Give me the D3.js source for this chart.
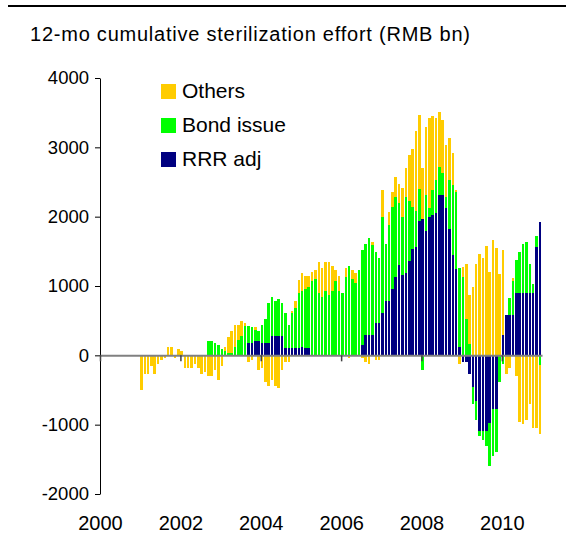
<!DOCTYPE html>
<html><head><meta charset="utf-8">
<script src="https://cdn.jsdelivr.net/npm/d3@7/dist/d3.min.js"></script>
<style>
body{margin:0;background:#fff}
svg{display:block}
text{font-family:"Liberation Sans",Arial,sans-serif;fill:#000}
</style>
</head><body>
<svg id="chart" width="566" height="554"></svg>
<script>
// ---- data (monthly, Jan 2001 .. Dec 2010), RMB bn ----
const seriesKeys = ["RRR adj", "Bond issue", "Others"];
const legendOrder = ["Others", "Bond issue", "RRR adj"];
const xTickYears = [2000, 2002, 2004, 2006, 2008, 2010];
const yTicks = [-2000, -1000, 0, 1000, 2000, 3000, 4000];
const titleText = "12-mo cumulative sterilization effort (RMB bn)";

const rrrAdj = [
  0,0,0,0,0,0,0,0,0,0,0,0,                                  // 2001
  0,0,0,0,0,0,0,0,0,0,0,0,                                  // 2002
  0,0,0,0,0,0,0,0,180,180,205,205,                          // 2003
  182,182,182,274,274,274,274,101,101,101,101,101,          // 2004
  115,101,101,0,0,0,0,0,0,0,0,0,                            // 2005
  0,0,0,0,0,0,144,288,288,288,461,461,                      // 2006
  605,778,778,951,1124,1297,1153,1182,1355,1527,1556,1931,  // 2007
  1960,1787,1989,2017,2046,2306,2306,2118,1816,1441,1239,115, // 2008
  -101,-101,-274,-461,-663,-1095,-1095,-1095,-980,-778,-778,0, // 2009
  288,576,576,576,893,893,893,893,893,893,1556,1917         // 2010
];
const bondIssue = [
  0,0,0,0,0,0,0,0,0,0,0,0,                                  // 2001
  0,0,0,0,0,0,0,0,200,200,173,144,                          // 2002
  87,67,38,29,125,220,275,420,250,225,160,140,              // 2003
  250,338,568,561,506,533,476,504,331,504,576,792,          // 2004
  807,850,879,1066,1095,893,836,922,865,922,1066,922,       // 2005
  893,1124,1282,1095,1038,1225,1369,1312,1398,1297,1023,937, // 2006
  1384,822,1095,1182,1153,893,836,1095,864,606,519,461,     // 2007
  -216,519,129,361,476,417,331,159,706,1009,1110,1139,      // 2008
  1124,519,159,-245,-274,-72,-130,-216,-620,-677,-620,-389, // 2009
  -130,0,245,490,476,591,707,735,418,130,159,-144           // 2010
];
const others = [
  -500,-275,-275,-155,-275,-120,-70,-40,115,115,-40,85,     // 2001
  60,-185,-185,-185,-130,-185,-275,-245,-300,-300,-215,-360, // 2002
  -155,48,222,316,307,212,215,40,-97,-67,40,-210,           // 2003
  -183,-385,-440,-355,-440,-475,-216,-101,-101,29,101,188,  // 2004
  260,187,158,130,130,447,418,418,475,360,159,216,          // 2005
  0,130,-43,130,144,0,-43,-101,-130,43,-72,-72,             // 2006
  389,0,188,216,302,274,418,418,677,850,1167,1081,          // 2007
  735,994,1312,1080,908,793,764,763,619,475,29,-130,        // 2008
  144,792,706,980,1311,1455,1398,1571,1196,1657,1542,1167,  // 2009
  1225,-274,-187,44,-303,-966,-994,-937,-706,-1052,-1052,-994 // 2010
];

const colors = {"RRR adj": "#000080", "Bond issue": "#00FF00", "Others": "#FFCC00"};

// ---- build ----
const months = d3.timeMonth.range(new Date(2001, 0, 1), new Date(2011, 0, 1));
const rows = months.map((m, i) => ({
  date: m, "RRR adj": rrrAdj[i], "Bond issue": bondIssue[i], "Others": others[i]
}));

const svg = d3.select("#chart");
const x = d3.scaleTime().domain([new Date(2000, 0, 1), new Date(2011, 0, 1)]).range([100, 542]);
const y = d3.scaleLinear().domain([-2000, 4000]).range([494, 78]);
const barW = 2.5;

// top rule
svg.append("line").attr("x1", 8).attr("x2", 566).attr("y1", 6).attr("y2", 6)
  .attr("stroke", "#000").attr("stroke-width", 2);

// title
svg.append("text").attr("x", 30).attr("y", 41).attr("font-size", 20)
  .attr("textLength", 440).attr("lengthAdjust", "spacing").text(titleText);

// stacked bars
const stacked = d3.stack().keys(seriesKeys).offset(d3.stackOffsetDiverging)(rows);
svg.append("g").selectAll("g").data(stacked).join("g")
  .attr("fill", s => colors[s.key])
  .selectAll("rect").data(s => s).join("rect")
  .attr("shape-rendering", "crispEdges")
  .attr("x", d => x(d.data.date))
  .attr("width", barW)
  .attr("y", d => y(Math.max(d[0], d[1])))
  .attr("height", d => Math.abs(y(d[0]) - y(d[1])));

// y axis
const yAxis = svg.append("g").attr("transform", "translate(100,0)")
  .call(d3.axisLeft(y).tickValues(yTicks).tickSize(5).tickSizeOuter(0).tickFormat(d => String(d)));
yAxis.selectAll("path,line").attr("stroke", "#000").attr("stroke-width", 1);
yAxis.selectAll("text").attr("font-size", 18.5).attr("x", -11).attr("fill", "#000");

// x axis on zero line, labels at bottom
const xAxis = svg.append("g").attr("transform", `translate(0,${y(0)})`)
  .call(d3.axisBottom(x).tickValues(xTickYears.map(v => new Date(v, 0, 1)))
    .tickSize(6).tickSizeOuter(0).tickFormat(d3.timeFormat("%Y")));
xAxis.select(".domain").attr("stroke", "#808080").attr("stroke-width", 2);
xAxis.selectAll(".tick line").attr("stroke", "#404040").attr("stroke-width", 1.5);
xAxis.selectAll("text").attr("font-size", 20).attr("y", 175).attr("dy", 0).attr("fill", "#000");

// legend
const lg = svg.append("g");
legendOrder.forEach((k, i) => {
  lg.append("rect").attr("x", 161).attr("y", 84 + i * 34).attr("width", 15).attr("height", 15)
    .attr("fill", colors[k]);
  lg.append("text").attr("x", 182).attr("y", 98 + i * 34).attr("font-size", 21).text(k);
});
</script>
</body></html>
